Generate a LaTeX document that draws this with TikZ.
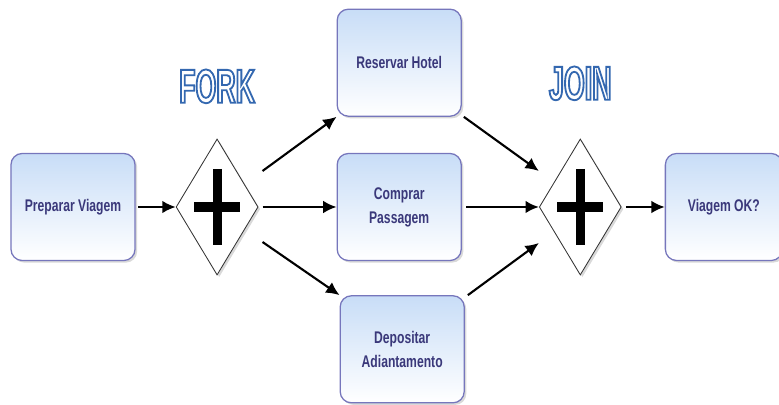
\documentclass[tikz,border=0pt]{standalone}
\usepackage{fontspec}
\setmainfont{Liberation Sans}
\newfontfamily\taskfont[FakeStretch=0.72]{Liberation Sans}
\newfontfamily\titlefont[FakeStretch=0.56]{Liberation Sans}
\usetikzlibrary{positioning,shapes.geometric,shadows,calc,arrows.meta}
\definecolor{taskline}{RGB}{118,118,188}
\definecolor{tasktop}{RGB}{200,221,247}
\definecolor{tasktext}{RGB}{58,56,122}
% letras vazadas: preenchimento branco, contorno azul
\newcommand{\outlined}[1]{{\color{white}\special{pdf:code q 2 Tr 1.3 w 0.204 0.408 0.69 RG}#1\special{pdf:code Q}}}

\begin{document}
\begin{tikzpicture}[x=0.025cm, y=-0.025cm]
\tikzstyle{task}=[rectangle, rounded corners=2.8mm, draw=taskline, line width=0.9pt, top color=tasktop, bottom color=white, minimum width=3.1cm, minimum height=2.675cm, align=center, text=tasktext, font={\taskfont\bfseries\fontsize{12}{17}\selectfont}, drop shadow={shadow xshift=1.5pt, shadow yshift=-1.5pt, opacity=0.3}]
\tikzstyle{gate}=[diamond, draw=black!80, line width=0.6pt, fill=white, minimum width=2.05cm, minimum height=3.4cm, inner sep=0pt, drop shadow={shadow xshift=1.5pt, shadow yshift=-1.5pt, opacity=0.3}, path picture={\draw[draw=black, line width=6.5pt] ($(path picture bounding box.center)+(0,-38)$) -- ++(0,76) ($(path picture bounding box.center)+(-23,0)$) -- ++(46,0);}]
\tikzstyle{connect}=[-{Latex[length=9.5pt,width=9pt]}, line width=1.5pt]
\tikzstyle{title}=[inner sep=0pt, font={\titlefont\bfseries\fontsize{34}{34}\selectfont}]

\useasboundingbox (0,0) rectangle (779,405);

  % tarefas e gateways
  \node[task] (prep) at (73,207) {Preparar Viagem};
  \node[gate] (fork) [right=1cm of prep] {};
  \node[task] (comp) [right=1.95cm of fork] {Comprar\\Passagem};
  \node[task] (resv) [above=0.9cm of comp] {Reservar Hotel};
  \node[task] (depo) [below=0.85cm of comp, xshift=0.075cm] {Depositar\\Adiantamento};
  \node[gate] (join) [right=1.925cm of comp] {};
  \node[task, minimum width=2.925cm] (ok) [right=1.075cm of join] {Viagem OK?};

  % titulos
  \node[title] (forklabel) [above=0.875cm of fork] {\outlined{FORK}};
  \node[title] (joinlabel) [above=0.95cm of join] {\outlined{JOIN}};

  % pontas soltas das setas
  \coordinate (f1) at ($(fork.east)+(4,-36)$);
  \coordinate (f3) at ($(fork.east)+(4,35)$);
  \coordinate (j1) at ($(join.west)+(0,-36)$);
  \coordinate (j3) at ($(join.west)+(0,36)$);

  % setas
  \path (prep) edge [connect, shorten <=2pt] (fork)
        (f1) edge [connect] (resv.south west)
        (fork) edge [connect, shorten <=3pt] (comp)
        (f3) edge [connect] (depo.north west)
        ($(resv.south east)+(2,0)$) edge [connect] (j1)
        (comp) edge [connect, shorten <=3pt] (join)
        ($(depo.north east)+(3,0)$) edge [connect] (j3)
        (join) edge [connect, shorten <=3pt] (ok);

\end{tikzpicture}
\end{document}
